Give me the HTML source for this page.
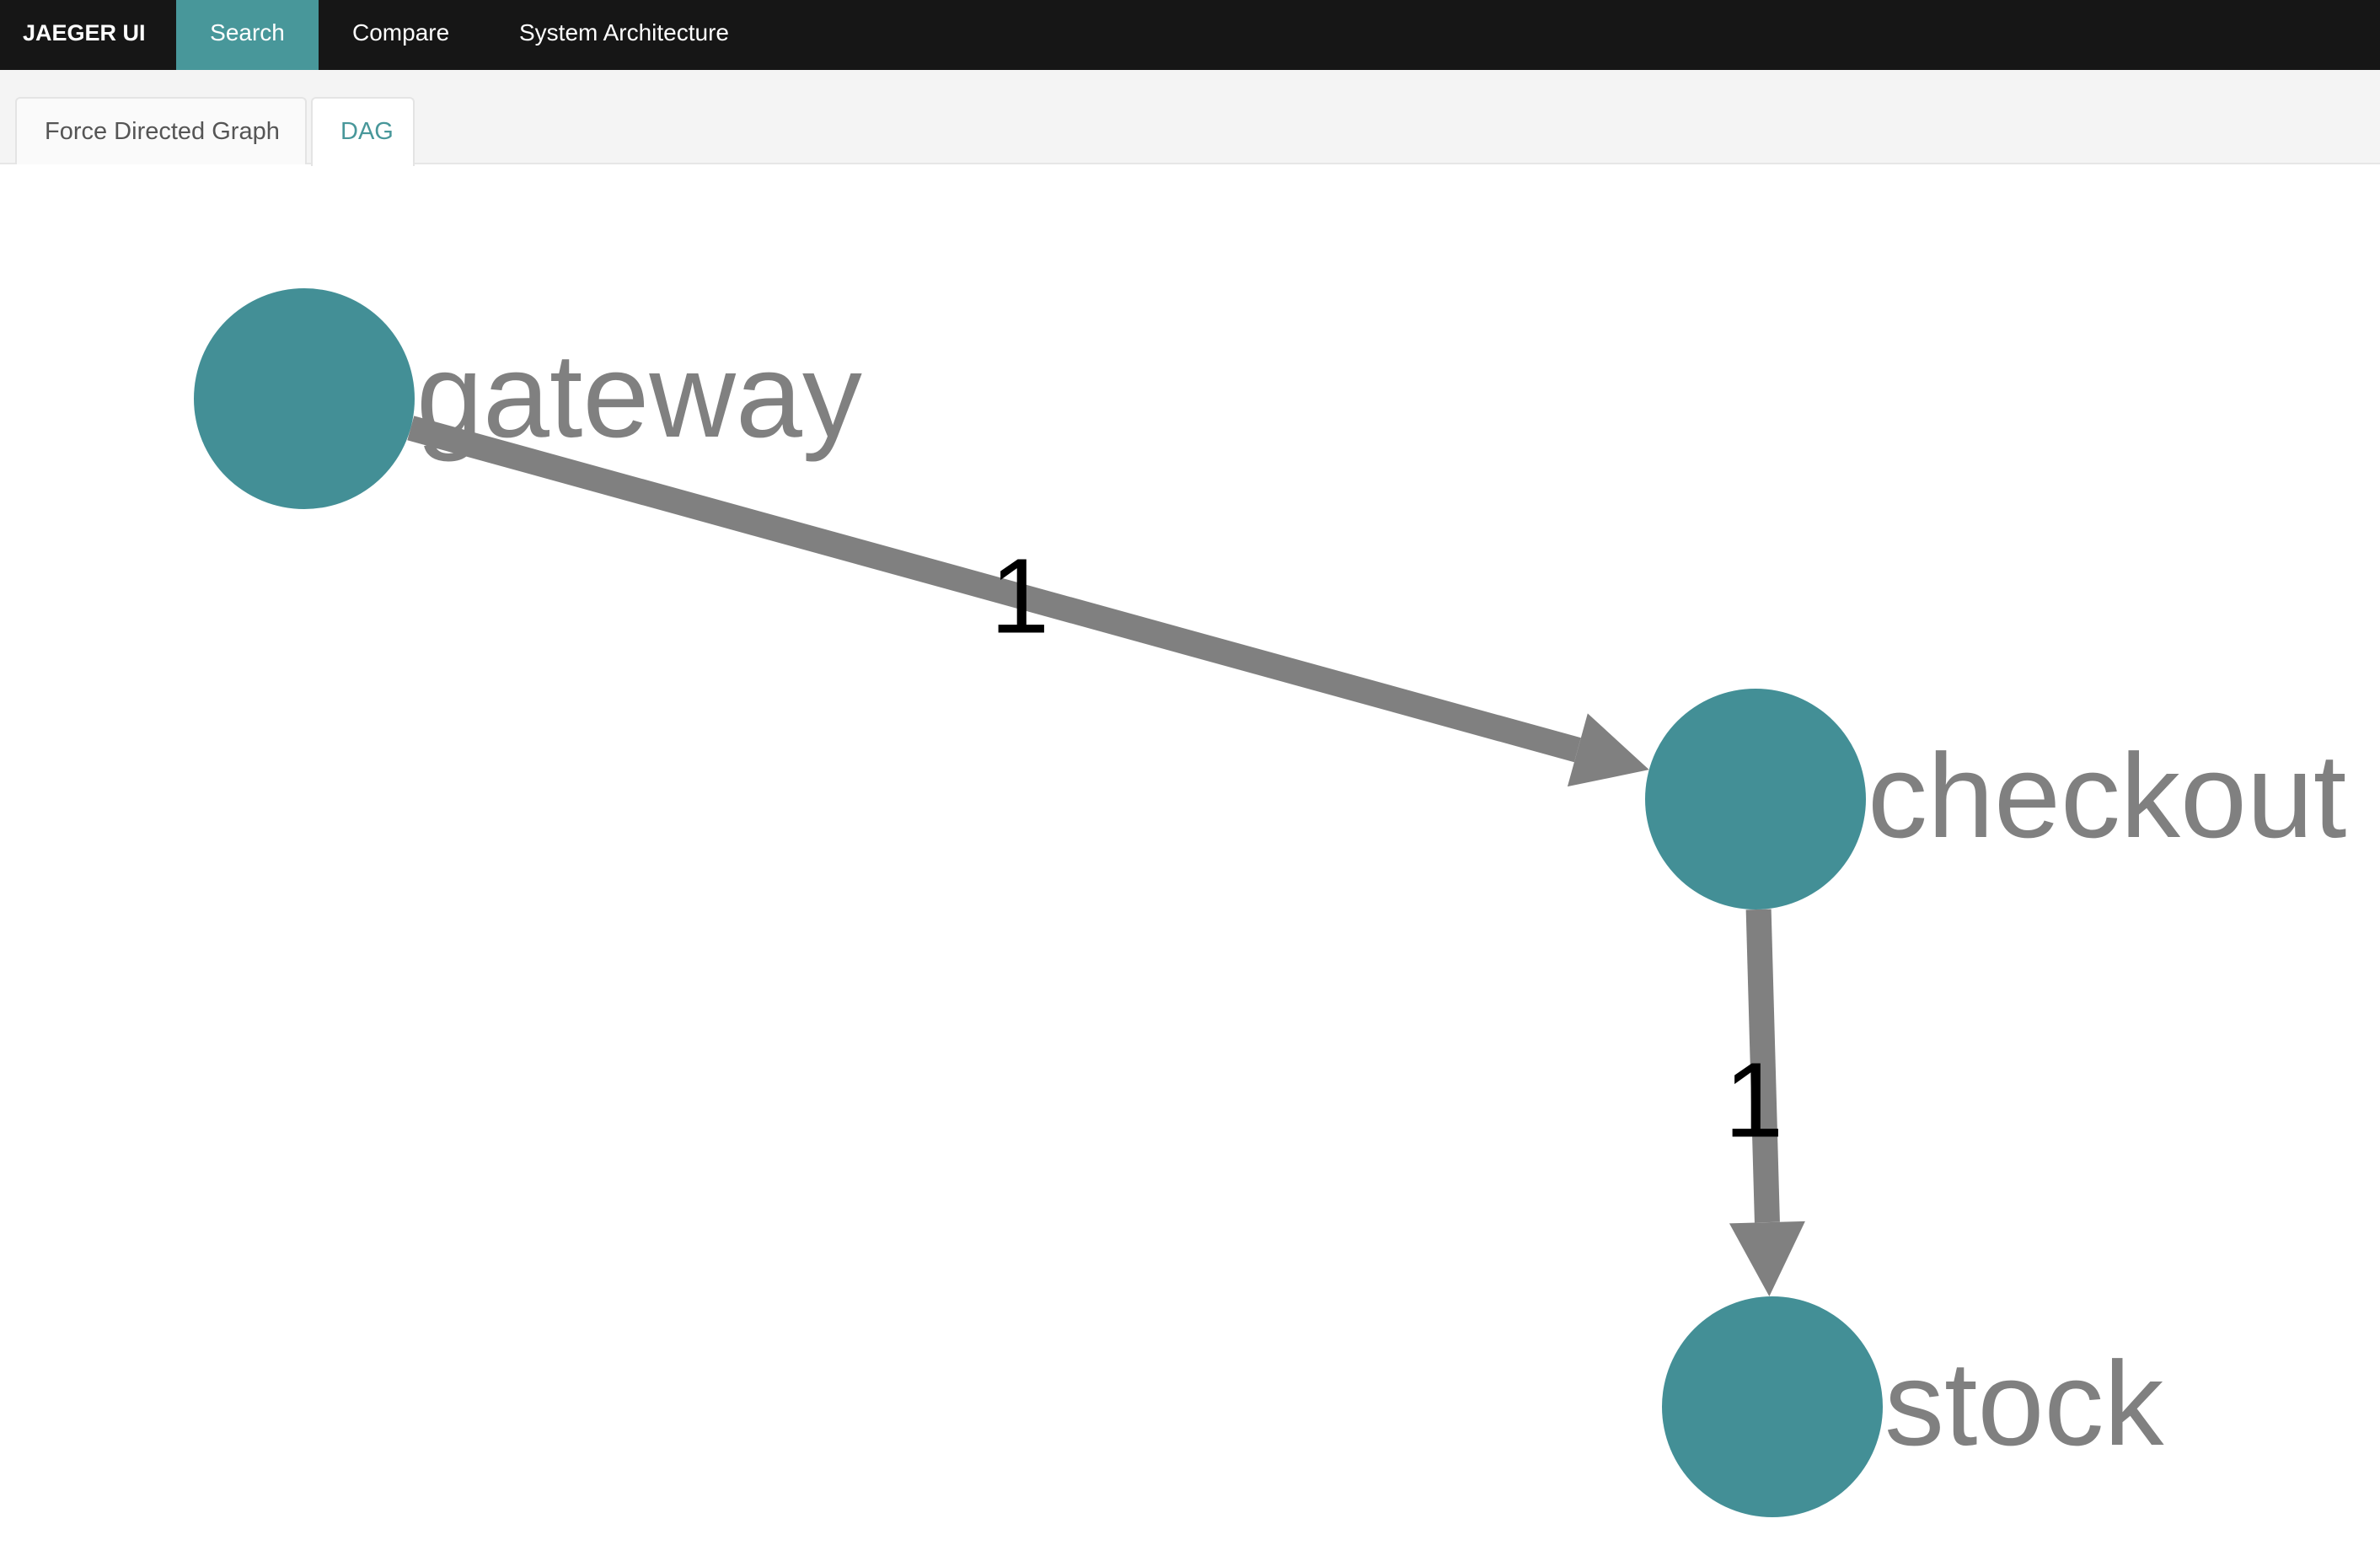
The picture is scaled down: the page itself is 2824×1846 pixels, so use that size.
<!DOCTYPE html>
<html><head><meta charset="utf-8">
<style>
html,body{margin:0;padding:0;width:2824px;height:1846px;background:#fff;overflow:hidden;font-family:"Liberation Sans",sans-serif;}
#nav{position:absolute;left:0;top:0;width:2824px;height:83px;background:#161616;}
.nav-item{position:absolute;top:0;height:83px;line-height:78px;color:#fff;font-size:28px;}
#sub{position:absolute;left:0;top:83px;width:2824px;height:112px;background:#f4f4f4;border-bottom:2px solid #e6e6e6;box-sizing:border-box;}
.tab{position:absolute;top:115px;height:80px;box-sizing:border-box;border:2px solid #e4e4e4;border-bottom:none;border-radius:6px 6px 0 0;font-size:29px;line-height:78px;}
svg{position:absolute;left:0;top:0;}
</style></head><body>
<div id="nav">
  <div class="nav-item" style="left:27px;font-weight:bold;font-size:27px">JAEGER UI</div>
  <div class="nav-item" style="left:209px;width:169px;background:#48979a;text-align:center">Search</div>
  <div class="nav-item" style="left:418px">Compare</div>
  <div class="nav-item" style="left:616px">System Architecture</div>
</div>
<div id="sub"></div>
<div class="tab" style="left:18px;width:346px;background:#fafafa;color:#555;padding-left:33px">Force Directed Graph</div>
<div class="tab" style="left:369px;width:123px;height:82px;background:#fff;color:#48979a;padding-left:33px">DAG</div>
<svg id="g" width="2824" height="1846"></svg>
<script>
const nodeNames=["gateway","checkout","stock"];
const nodeX=[361,2083,2103];
const nodeY=[473,948,1669];
const edgeFrom=[0,1];
const edgeTo=[1,2];
const edgeLabels=["1","1"];
const R=131;
const svg=document.getElementById('g');
const NS='http://www.w3.org/2000/svg';
function mk(t,a){const e=document.createElementNS(NS,t);for(const k in a)e.setAttribute(k,a[k]);svg.appendChild(e);return e;}
edgeFrom.forEach((f,i)=>{
  const t=edgeTo[i];
  const dx=nodeX[t]-nodeX[f],dy=nodeY[t]-nodeY[f],L=Math.hypot(dx,dy),ux=dx/L,uy=dy/L;
  const sx=nodeX[f]+ux*R,sy=nodeY[f]+uy*R,ex=nodeX[t]-ux*R,ey=nodeY[t]-uy*R;
  const bx=ex-ux*88,by=ey-uy*88;
  const l=mk('line',{x1:sx,y1:sy,x2:bx,y2:by,stroke:'#808080','stroke-width':30});
  
  
  const px=-uy,py=ux;
  const a=mk('polygon',{points:`${ex},${ey} ${bx+px*45},${by+py*45} ${bx-px*45},${by-py*45}`,fill:'#808080'});
  
  
  const tx=mk('text',{x:(sx+ex)/2-12,y:(sy+ey)/2+40,'font-size':126,'text-anchor':'middle',fill:'#000','font-family':'Liberation Sans, sans-serif'});
  tx.textContent=edgeLabels[i];
  
  
});
nodeNames.forEach((n,i)=>{
  const c=mk('circle',{cx:nodeX[i],cy:nodeY[i],r:R,fill:'#438f96'});
  
  
  const t=mk('text',{x:nodeX[i]+R+2,y:nodeY[i]+45,'font-size':142,fill:'#808080','font-family':'Liberation Sans, sans-serif'});
  t.textContent=n;
  
  
});
</script>
</body></html>
